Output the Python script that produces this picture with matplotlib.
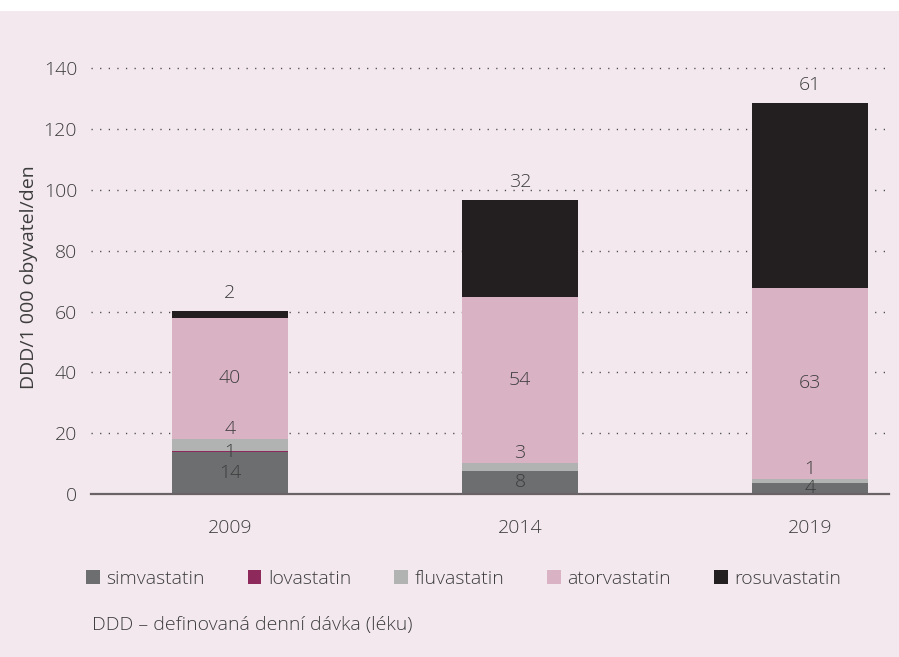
import matplotlib
matplotlib.use('Agg')
import matplotlib.pyplot as plt
from matplotlib.patches import Rectangle
import numpy as np

years = ['2009', '2014', '2019']
series = ['simvastatin', 'lovastatin', 'fluvastatin', 'atorvastatin', 'rosuvastatin']
simva = [13.7, 7.6, 3.7]
lova = [0.4, 0.0, 0.0]
fluva = [4.0, 2.5, 1.2]
atorva = [39.9, 54.6, 63.0]
rosu = [2.2, 32.1, 60.8]
# labels as printed in the chart
lab_simva = ['14', '8', '4']
lab_lova = ['1', '', '']
lab_fluva = ['4', '3', '1']
lab_atorva = ['40', '54', '63']
lab_rosu = ['2', '32', '61']

colors = ['#6d6e70', '#8d2a5b', '#b1b3b3', '#d9b2c4', '#231f20']
bg = '#f3e8ee'
txt = '#3d3d3d'

plt.rcParams['font.family'] = ['Open Sans', 'DejaVu Sans']
plt.rcParams['font.weight'] = 'light'
fs = 14

fig = plt.figure(figsize=(8.99, 6.57), dpi=100)
fig.patch.set_facecolor('white')
fig.patches.append(Rectangle((0, 0), 1, 1 - 11 / 657, transform=fig.transFigure,
                             facecolor=bg, edgecolor='none', zorder=-10))

ax = fig.add_axes([91 / 899, 1 - 494 / 657, 798 / 899, 434.7 / 657])
ax.set_facecolor('none')

x = np.arange(len(years))
w = 0.4
data = [simva, lova, fluva, atorva, rosu]
bottom = np.zeros(len(years))
bars = []
for name, vals, c in zip(series, data, colors):
    ax.bar(x, vals, w, bottom=bottom, color=c, label=name, zorder=3)
    bars.append((bottom.copy(), np.array(vals)))
    bottom += np.array(vals)

# labels centered in segment: simva, lova, atorva
for idx, labs in [(0, lab_simva), (1, lab_lova), (3, lab_atorva)]:
    bot, vals = bars[idx]
    for i in range(len(years)):
        if labs[i]:
            ax.text(x[i], bot[i] + vals[i] / 2, labs[i], ha='center', va='center',
                    fontsize=fs, color=txt, zorder=5)
# fluva above its segment
bot, vals = bars[2]
for i in range(len(years)):
    ax.annotate(lab_fluva[i], (x[i], bot[i] + vals[i]), xytext=(0, 7.5),
                textcoords='offset points', ha='center', va='center',
                fontsize=fs, color=txt, zorder=5)
# rosu above the bar
bot, vals = bars[4]
for i in range(len(years)):
    ax.annotate(lab_rosu[i], (x[i], bot[i] + vals[i]), xytext=(0, 13),
                textcoords='offset points', ha='center', va='center',
                fontsize=fs, color=txt, zorder=5)

ax.set_xlim(-139 / 290, 659 / 290)
ax.set_ylim(0, 143)
ax.set_yticks(range(0, 141, 20))
ax.set_xticks(x)
ax.set_xticklabels(years)
ax.tick_params(axis='both', length=0, labelsize=fs, labelcolor=txt)
ax.tick_params(axis='y', pad=10)
ax.tick_params(axis='x', pad=18)
for g in ax.get_yticks()[1:]:
    ax.axhline(g, color='#4a4a4a', lw=1, ls=(0, (0.9, 5.3)), zorder=1)
for s in ['top', 'right', 'left']:
    ax.spines[s].set_visible(False)
ax.spines['bottom'].set_color('#6a6366')
ax.spines['bottom'].set_linewidth(1.6)
ax.spines['bottom'].set_zorder(4)

ax.set_ylabel('DDD/1 000 obyvatel/den', fontsize=fs, color=txt, labelpad=4)

leg = fig.legend(loc='center left', bbox_to_anchor=(86 / 899, 1 - 579 / 657), ncol=5,
                 frameon=False, fontsize=fs, handlelength=0.7, handleheight=0.7,
                 handletextpad=0.35, columnspacing=2.2, borderaxespad=0, borderpad=0)
for t in leg.get_texts():
    t.set_color(txt)

fig.text(92 / 899, 1 - 625 / 657, 'DDD – definovaná denní dávka (léku)', fontsize=fs,
         color=txt, ha='left', va='center')

fig.savefig('out.png', dpi=100, facecolor=fig.get_facecolor())
